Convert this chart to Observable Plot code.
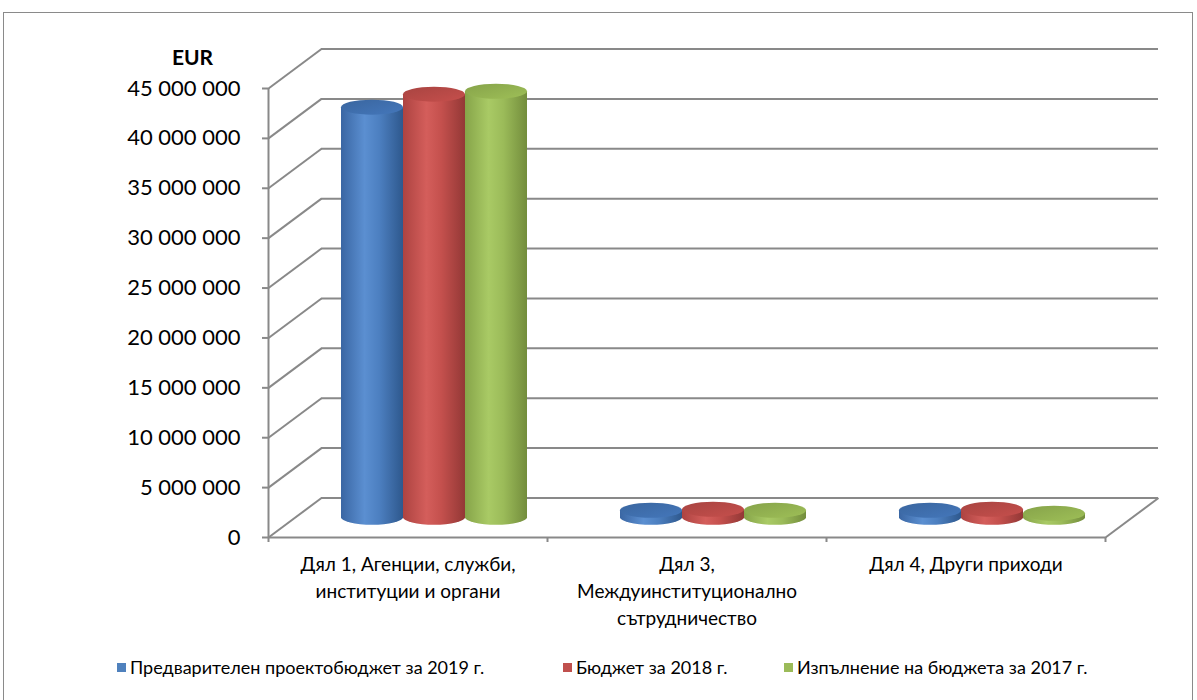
<!DOCTYPE html>
<html><head><meta charset="utf-8">
<script src="https://cdn.jsdelivr.net/npm/d3@7"></script>
<script src="https://cdn.jsdelivr.net/npm/@observablehq/plot@0.6"></script>
<style>
html,body{margin:0;padding:0;background:#fff;}
#wrap{position:relative;width:1197px;height:700px;overflow:hidden;font-family:Lato,"Open Sans",sans-serif;}
#border{position:absolute;left:3px;top:12px;width:1190px;height:720px;border:1px solid #8a8a8a;box-sizing:border-box;}
#chart{position:absolute;left:0;top:0;}
#legend{position:absolute;left:117px;top:656px;display:grid;grid-template-columns:446px 221px auto;align-items:center;font-size:18px;color:#000;white-space:nowrap;}
#legend .item{display:flex;align-items:center;}
#legend .sw{width:9px;height:9px;margin-right:4px;}
</style></head><body>
<div id="wrap"><div id="border"></div><div id="chart"></div><div id="legend"></div></div>
<script>
// ---- data ----
const categories = ["Дял 1, Агенции, служби,\nинституции и органи", "Дял 3,\nМеждуинституционално\nсътрудничество", "Дял 4, Други приходи"];
const series = ["Предварителен проектобюджет за 2019 г.", "Бюджет за 2018 г.", "Изпълнение на бюджета за 2017 г."];
const draft2019 = [41100000, 700000, 700000];
const budget2018 = [42400000, 800000, 800000];
const outturn2017 = [42700000, 700000, 400000];
const yTicks = [0, 5000000, 10000000, 15000000, 20000000, 25000000, 30000000, 35000000, 40000000, 45000000];
const yLabel = "EUR";

// ---- styling ----
const colors = ["#4f81bd", "#c0504d", "#9bbb59"];
const bodyStops = [
  ["#3a66a3", "#5b8fd1", "#4c7fc0", "#2e588d"],
  ["#ad4341", "#d45e5b", "#c4504d", "#933836"],
  ["#86a449", "#a9ca65", "#9bbb59", "#738d3c"]
];
const topFill = ["#3f6fae", "#b84a47", "#93b251"];
const grid = "#898989";
const DX = 53, DY = -39.5;       // depth of the 3-D box (pixels)
const GAP = 1.5;                 // Excel gap width 150 %
const ns = series.length;

const seriesValues = [draft2019, budget2018, outturn2017];
const rows = [];
categories.forEach((c, ci) => seriesValues.forEach((vals, si) => rows.push({ci, si, value: vals[ci]})));

const fmt = d => d3.format(",")(d).replace(/,/g, " ");

function shiftEnd(index, scales, values, dimensions, context, next) {
  const x2 = Float64Array.from(values.x2, v => v + DX);
  const y2 = Float64Array.from(values.y2, v => v + DY);
  return next(index, scales, {...values, x2, y2}, dimensions, context);
}

function cylinders(index, scales, values) {
  const g = d3.create("svg:g");
  const defs = g.append("defs");
  bodyStops.forEach((st, k) => {
    const lg = defs.append("linearGradient").attr("id", "cyl" + k).attr("x1", 0).attr("x2", 1).attr("y1", 0).attr("y2", 0);
    [0, 0.38, 0.62, 1].forEach((o, j) => lg.append("stop").attr("offset", o).attr("stop-color", st[j]));
    const tg = defs.append("linearGradient").attr("id", "top" + k).attr("x1", 0).attr("x2", 1).attr("y1", 0).attr("y2", 1);
    tg.append("stop").attr("offset", 0).attr("stop-color", d3.color(topFill[k]).darker(0.25));
    tg.append("stop").attr("offset", 1).attr("stop-color", d3.color(topFill[k]).brighter(0.2));
  });
  for (const i of index) {
    const d = rows[i];
    const xa = values.x1[i] + DX / 2, xb = values.x2[i] + DX / 2;
    const yb = values.y1[i] + DY / 2, yt = values.y2[i] + DY / 2;
    const rx = (xb - xa) / 2, ry = 7.5, cx = (xa + xb) / 2;
    g.append("path")
      .attr("d", `M${xa},${yt}V${yb}A${rx},${ry} 0 0 0 ${xb},${yb}V${yt}Z`)
      .attr("fill", `url(#cyl${d.si})`);
    g.append("ellipse").attr("cx", cx).attr("cy", yt).attr("rx", rx).attr("ry", ry)
      .attr("fill", `url(#top${d.si})`);
  }
  return g.node();
}

const chart = Plot.plot({
  width: 1197,
  height: 640,
  marginLeft: 268,
  marginRight: 92,
  marginTop: 88,
  marginBottom: 103,
  style: {fontFamily: "Lato, 'Open Sans', sans-serif", color: "#000", background: "transparent", overflow: "visible"},
  x: {domain: [0, categories.length], axis: null},
  y: {domain: [0, 45000000], axis: null},
  marks: [
    // back wall gridlines
    Plot.ruleY(yTicks, {y: d => d, x1: 0, x2: categories.length, dx: DX, dy: DY, stroke: grid, strokeWidth: 2}),
    // side wall diagonals
    Plot.link(yTicks, {x1: 0, x2: 0, y1: d => d, y2: d => d, stroke: grid, strokeWidth: 2, render: shiftEnd}),
    // floor right edge
    Plot.link([0], {x1: categories.length, x2: categories.length, y1: d => d, y2: d => d, stroke: grid, strokeWidth: 2, render: shiftEnd}),
    // floor front edge
    Plot.ruleY([0], {x1: 0, x2: categories.length, stroke: grid, strokeWidth: 2}),
    // value axis line
    Plot.ruleX([0], {y1: 0, y2: 45000000, stroke: grid, strokeWidth: 2}),
    // cylinders
    Plot.rectY(rows, {
      x1: d => d.ci + (GAP / 2 + d.si) / (ns + GAP),
      x2: d => d.ci + (GAP / 2 + d.si + 1) / (ns + GAP),
      y1: () => 0,
      y2: d => d.value,
      fill: d => colors[d.si],
      render: cylinders
    }),
    // y axis
    Plot.axisY(yTicks, {tickFormat: fmt, tickSize: 6, tickPadding: 22, fontSize: 22, stroke: grid, strokeWidth: 2, fill: "#000"}),
    // category boundary ticks
    Plot.axisX([0, 1, 2, 3], {tickFormat: () => "", tickSize: 5, stroke: grid, strokeWidth: 2}),
    // category labels
    Plot.axisX([0.5, 1.5, 2.5], {tickFormat: d => categories[Math.floor(d)], tickSize: 0, tickPadding: 14, fontSize: 19, lineHeight: 1.42, fill: "#000"}),
    // axis title
    Plot.text([yLabel], {text: d => d, frameAnchor: "top-left", dx: -76, dy: -38, fontSize: 21, fontWeight: "bold", textAnchor: "middle", fill: "#000"})
  ]
});
document.getElementById("chart").appendChild(chart);

const legend = d3.select("#legend");
series.forEach((s, i) => {
  const it = legend.append("div").attr("class", "item");
  it.append("div").attr("class", "sw").style("background", colors[i]);
  it.append("span").text(s);
});
</script>
</body></html>
